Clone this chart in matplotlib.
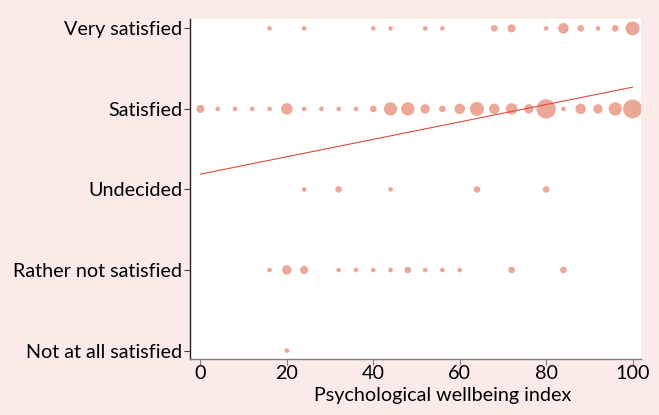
import matplotlib as mpl
import matplotlib.pyplot as plt
import numpy as np

mpl.rcParams["font.family"] = ["Lato", "DejaVu Sans"]

# satisfaction categories, bottom (1) to top (5)
categories = ["Not at all satisfied", "Rather not satisfied", "Undecided",
              "Satisfied", "Very satisfied"]

# psychological wellbeing index values and number of respondents per cell
very_x = [16, 24, 40, 44, 52, 56, 68, 72, 80, 84, 88, 92, 96, 100]
very_n = [1, 1, 1, 1, 1, 1, 2, 3, 1, 5, 2, 1, 2, 9]

sat_x = [0, 4, 8, 12, 16, 20, 24, 28, 32, 36, 40, 44, 48, 52, 56, 60, 64,
         68, 72, 76, 80, 84, 88, 92, 96, 100]
sat_n = [3, 1, 1, 1, 1, 6, 1, 1, 1, 1, 2, 8, 8, 4, 2, 5, 9,
         5, 6, 4, 17, 1, 5, 4, 8, 16]

und_x = [24, 32, 44, 64, 80]
und_n = [1, 2, 1, 2, 2]

rather_x = [16, 20, 24, 32, 36, 40, 44, 48, 52, 56, 60, 72, 84]
rather_n = [1, 4, 3, 1, 1, 1, 1, 2, 1, 1, 1, 2, 2]

notall_x = [20]
notall_n = [1]

# linear fit of satisfaction on wellbeing index
fit_x = [0, 100]
fit_intercept = 3.19
fit_slope = 0.0108

BG = "#FAEBE8"
DOT = "#EBA898"
LINE = "#DD4B44"

fig = plt.figure(figsize=(6.59, 4.15), dpi=100, facecolor=BG)
ax = fig.add_axes([0.289, 0.134, 0.683, 0.820])
ax.set_facecolor("white")

rows = [(notall_x, notall_n), (rather_x, rather_n), (und_x, und_n),
        (sat_x, sat_n), (very_x, very_n)]
for level, (xs, ns) in enumerate(rows, start=1):
    ax.scatter(xs, [level] * len(xs), s=np.array(ns) * 11.5, color=DOT,
               edgecolors="none", zorder=2)

fx = np.array(fit_x)
ax.plot(fx, fit_intercept + fit_slope * fx, color=LINE, lw=0.8, zorder=3)

ax.set_xlim(-2.3, 101.85)
ax.set_ylim(0.89, 5.115)
ax.set_xticks([0, 20, 40, 60, 80, 100])
ax.set_yticks(range(1, 6))
ax.set_yticklabels(categories)

for side in ("top", "right"):
    ax.spines[side].set_visible(False)
ax.spines["left"].set_color("#222222")
ax.spines["left"].set_linewidth(1.0)
ax.spines["bottom"].set_color("#808080")
ax.spines["bottom"].set_linewidth(1.0)

ax.tick_params(axis="y", length=4, width=0.8, color="#444444", pad=2,
               labelsize=14.2)
ax.tick_params(axis="x", length=4, width=0.8, color="#808080", pad=0,
               labelsize=14.2)

ax.set_xlabel("Psychological wellbeing index", fontsize=14.2, labelpad=0)
ax.xaxis.set_label_coords(0.56, -0.082)

fig.savefig("out.png", dpi=100, facecolor=BG)
